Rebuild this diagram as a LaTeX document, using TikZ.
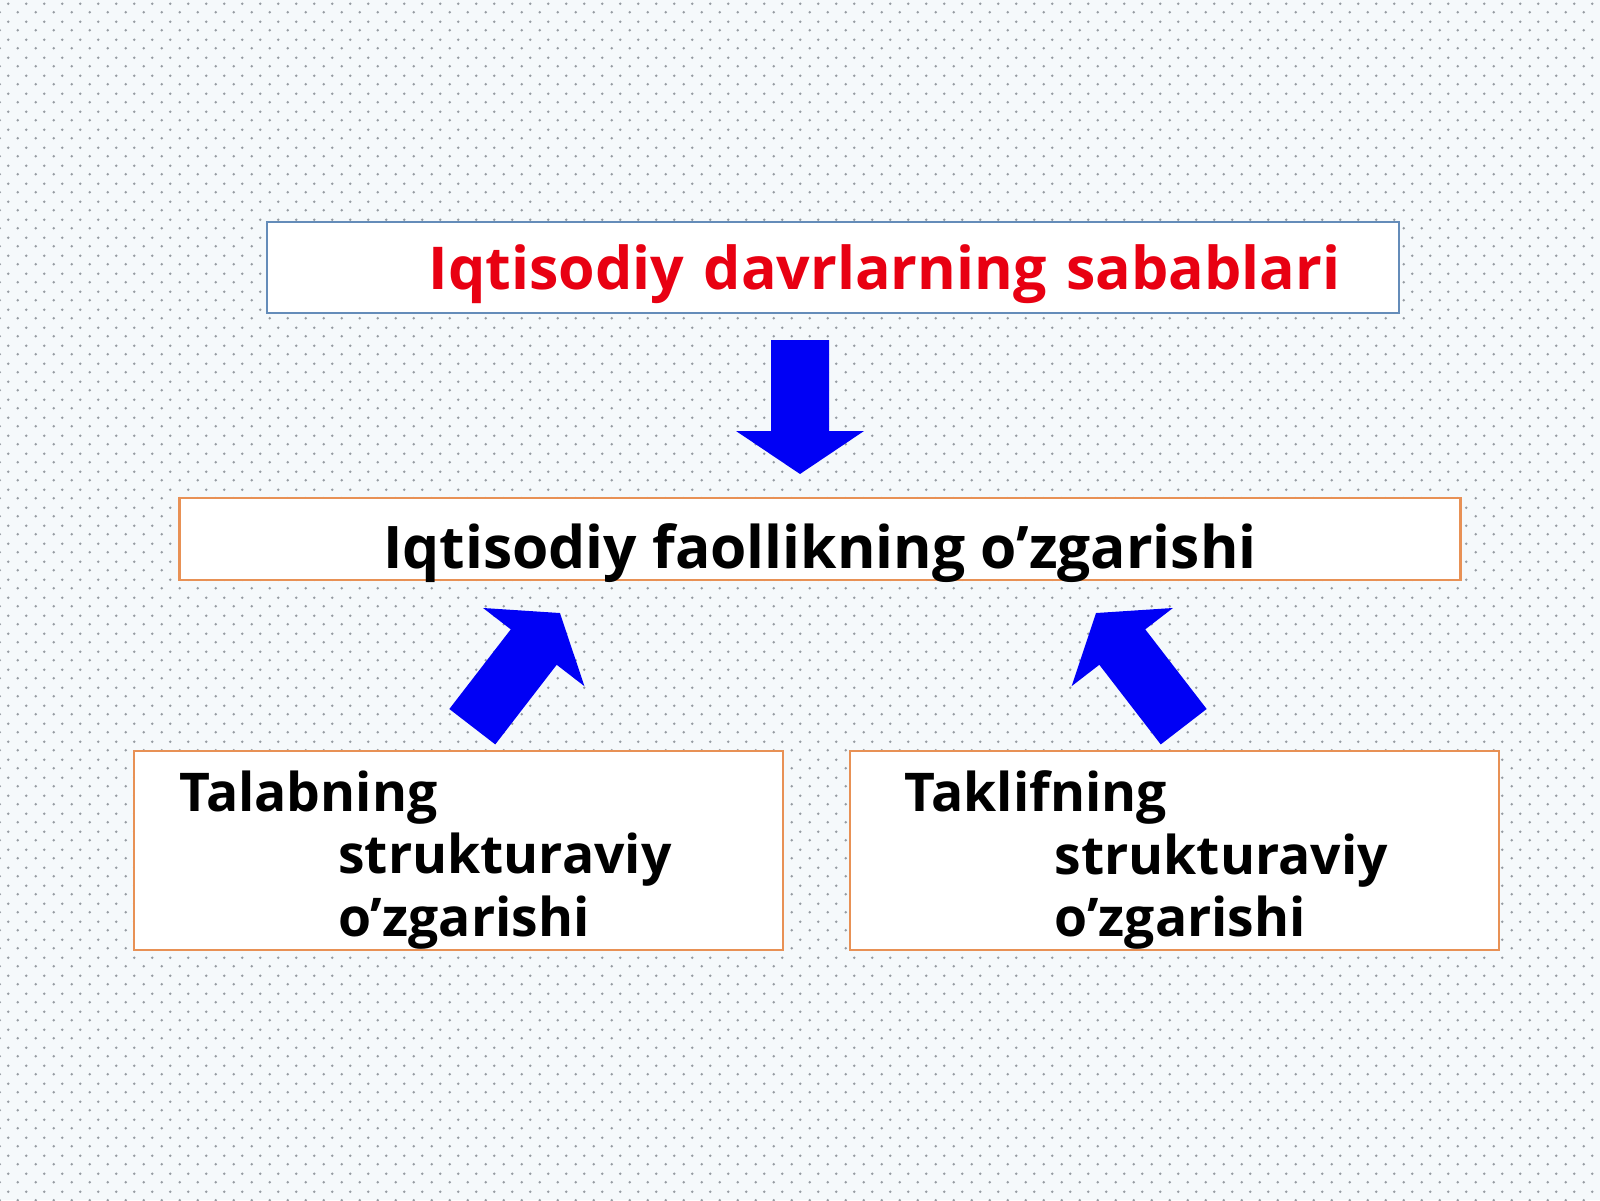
\documentclass[tikz,border=0pt]{standalone}
\usepackage{fontspec}
\setmainfont{Open Sans}
\usetikzlibrary{positioning,calc,patterns}

\definecolor{bgpaper}{RGB}{245,249,251}
\definecolor{bgdot}{RGB}{150,156,162}
\definecolor{titlered}{RGB}{232,0,18}
\definecolor{frameblue}{RGB}{100,140,185}
\definecolor{frameorange}{RGB}{232,145,85}
\definecolor{arrowblue}{RGB}{0,0,245}

\pgfdeclarepatternformonly{paperdots}{\pgfqpoint{-0.5pt}{-0.5pt}}{\pgfqpoint{4.48pt}{4.48pt}}{\pgfqpoint{4.98pt}{4.98pt}}{%
	\pgfpathcircle{\pgfqpoint{0pt}{0pt}}{0.4pt}%
	\pgfpathcircle{\pgfqpoint{2.49pt}{2.49pt}}{0.4pt}%
	\pgfusepath{fill}}

\newcommand{\shafthalf}{0.29cm}
\newcommand{\headhalf}{0.64cm}
\newcommand{\headlen}{0.43cm}
\newcommand{\blockarrow}[2]{%
	\fill[arrowblue] let \p1=($(#2)-(#1)$), \n1={atan2(\y1,\x1)}, \n2={veclen(\x1,\y1)} in
	[shift={(#1)}, rotate=\n1]
	(0pt,-\shafthalf) -- ({\n2-\headlen},-\shafthalf) -- ({\n2-\headlen},-\headhalf) -- (\n2,0pt)
	-- ({\n2-\headlen},\headhalf) -- ({\n2-\headlen},\shafthalf) -- (0pt,\shafthalf) -- cycle;}

\begin{document}
\begin{tikzpicture}[font=\bfseries,
	causebox/.style={draw=frameblue, line width=0.6pt, fill=white, outer sep=0pt},
	effectbox/.style={draw=frameorange, line width=0.6pt, fill=white, outer sep=0pt},
	sidetext/.style={align=left, inner sep=0pt, font=\fontsize{15.2}{17.8}\selectfont\bfseries}]
	\fill[bgpaper] (0,0) rectangle (16,12);
	\fill[pattern=paperdots, pattern color=bgdot] (0,0) rectangle (16,12);
	\useasboundingbox (0,0) rectangle (16,12);

	\node[causebox, text width=10.14cm, align=right, inner xsep=0.59cm, inner ysep=0pt, text height=0.683cm, text depth=0.23cm,
		font=\fontsize{16.8}{20}\selectfont\bfseries, text=titlered] (sabab) at (8.332,9.3265) {Iqtisodiy davrlarning sabablari};
	\node[effectbox, minimum width=12.81cm, inner ysep=0pt, text height=0.70cm, text depth=0.12cm,
		font=\fontsize{16.7}{20}\selectfont\bfseries] (faollik) at (8.20,6.61) {Iqtisodiy faollikning o’zgarishi};
	\node[effectbox, minimum width=6.49cm, minimum height=1.99cm] (talab) at (4.582,3.495) {};
	\node[effectbox, minimum width=6.49cm, minimum height=1.99cm] (taklif) [right=0.673cm of talab] {};
	\node[sidetext] (talabtxt) [below right=0.19cm and 0.45cm of talab.north west] {Talabning\\\hspace*{1.59cm}strukturaviy\\\hspace*{1.59cm}o’zgarishi};
	\node[sidetext] (takliftxt) [below right=0.19cm and 0.54cm of taklif.north west] {Taklifning\\\hspace*{1.50cm}strukturaviy\\\hspace*{1.50cm}o’zgarishi};

	\coordinate (dS) at ([xshift=-0.332cm,yshift=-0.27cm]sabab.south);
	\coordinate (dE) at ([xshift=-0.20cm,yshift=0.24cm]faollik.north);
	\coordinate (lS) at ([xshift=0.141cm,yshift=0.243cm]talab.north);
	\coordinate (lE) at ([xshift=-2.60cm,yshift=-0.33cm]faollik.south);
	\coordinate (rS) at ([xshift=0.092cm,yshift=0.243cm]taklif.north);
	\coordinate (rE) at ([xshift=2.76cm,yshift=-0.33cm]faollik.south);
	\blockarrow{dS}{dE}
	\blockarrow{lS}{lE}
	\blockarrow{rS}{rE}
\end{tikzpicture}
\end{document}
